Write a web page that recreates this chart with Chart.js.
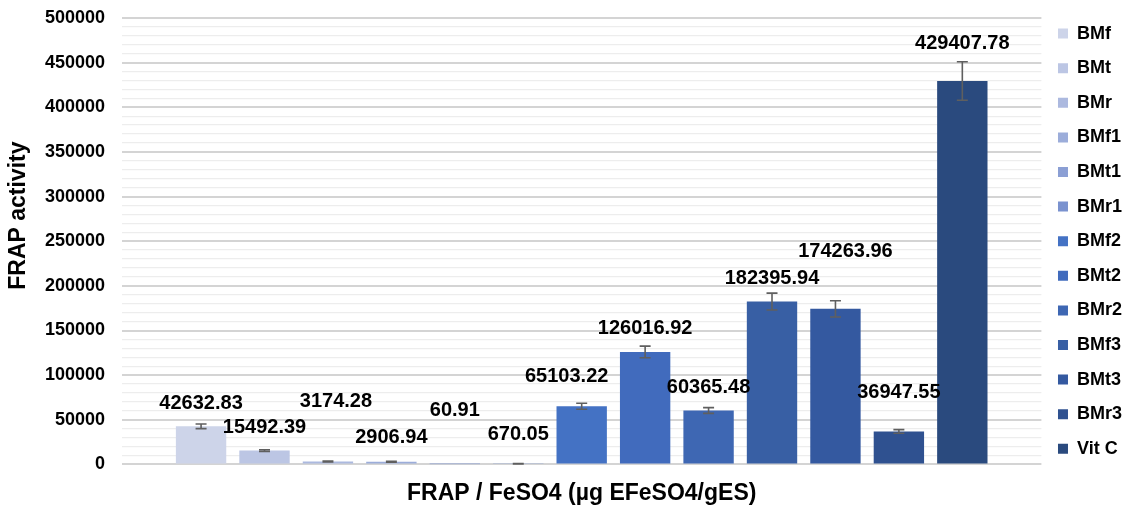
<!DOCTYPE html>
<html>
<head>
<meta charset="utf-8">
<script src="https://cdn.jsdelivr.net/npm/chart.js@4.4.0/dist/chart.umd.min.js"></script>
<style>
  html, body { margin:0; padding:0; background:#fff; }
  #wrap { width:1125px; height:510px; }
</style>
</head>
<body>
<div id="wrap"><canvas id="frapChart" width="1125" height="510"></canvas></div>
<script>
/* FRAP activity per extract */

const SAMPLES = ['BMf','BMt','BMr','BMf1','BMt1','BMr1','BMf2','BMt2','BMr2','BMf3','BMt3','BMr3','Vit C'];
const FRAP    = [42632.83,15492.39,3174.28,2906.94,60.91,670.05,65103.22,126016.92,60365.48,182395.94,174263.96,36947.55,429407.78];
const FRAP_SD = [2600,1000,500,500,0,300,3400,6500,3200,9500,9100,2000,21600];
const COLORS  = ['#CDD4E9','#BCC6E4','#ACB9DF','#9CADDA','#8B9FD4','#7A92CF','#4472C4','#416BBD','#3E67B3','#385FA4','#3459A0','#2F5190','#2A4A7E'];

// label nudges (px) where the labels were dragged around in the original
const LABEL_DX = [0,0,8,0,0,0,-15,0,0,0,10,0,0];
const LABEL_DY = [-23,-23,-60,-24,-54,-29,-30,-23,-23,-23,-57,-39,-38];

const FONT = '"Liberation Sans", Arial, sans-serif';

const barExtras = {
  id:'barExtras',
  afterDatasetsDraw(chart) {
    const { ctx, scales:{ y } } = chart;
    ctx.save();
    // error bars
    ctx.strokeStyle = '#5f5f5f';
    ctx.lineWidth = 1.6;
    FRAP.forEach((v, i) => {
      const bar = chart.getDatasetMeta(i).data[0];
      if (!bar || !FRAP_SD[i]) return;
      const yHi = y.getPixelForValue(v + FRAP_SD[i]);
      const yLo = y.getPixelForValue(Math.max(0, v - FRAP_SD[i]));
      ctx.beginPath();
      ctx.moveTo(bar.x, yHi); ctx.lineTo(bar.x, yLo);
      ctx.moveTo(bar.x - 5.5, yHi); ctx.lineTo(bar.x + 5.5, yHi);
      ctx.moveTo(bar.x - 5.5, yLo); ctx.lineTo(bar.x + 5.5, yLo);
      ctx.stroke();
    });
    // value labels
    ctx.fillStyle = '#000';
    ctx.font = 'bold 20px ' + FONT;
    ctx.textAlign = 'center';
    ctx.textBaseline = 'middle';
    FRAP.forEach((v, i) => {
      const bar = chart.getDatasetMeta(i).data[0];
      if (!bar) return;
      ctx.fillText(v.toFixed(2), bar.x + LABEL_DX[i], y.getPixelForValue(v) + LABEL_DY[i]);
    });
    ctx.restore();
  }
};

new Chart(document.getElementById('frapChart'), {
  type:'bar',
  data:{
    labels:[''],
    datasets: SAMPLES.map((s, i) => ({
      label:s, data:[FRAP[i]], backgroundColor:COLORS[i], borderWidth:0,
      categoryPercentage:0.897, barPercentage:0.794
    }))
  },
  options:{
    responsive:false,
    animation:false,
    layout:{ padding:{ top:8, right:-7, bottom:0, left:0 } },
    plugins:{
      tooltip:{ enabled:false },
      legend:{
        position:'right',
        align:'start',
        labels:{ boxWidth:10, boxHeight:10, padding:16.6, color:'#000', font:{ family:FONT, size:18, weight:'bold' } }
      }
    },
    scales:{
      x:{
        grid:{ display:false, drawTicks:false },
        border:{ display:false },
        ticks:{ display:false },
        title:{ display:true, text:'FRAP / FeSO4 (µg EFeSO4/gES)', color:'#000',
          font:{ family:FONT, size:23, weight:'bold' }, padding:{ top:15, bottom:3 } }
      },
      y:{
        min:0, max:500000,
        border:{ display:false },
        afterFit(s) { s.width = 122; s.paddingTop = 18; },
        grid:{
          drawTicks:false,
          color: c => c.tick.value % 50000 === 0 ? '#d4d4d4' : '#ededed',
          lineWidth: c => c.tick.value % 50000 === 0 ? 1.9 : 1.3
        },
        ticks:{
          stepSize:10000, maxTicksLimit:100, autoSkip:false, padding:17, color:'#000',
          font:{ family:FONT, size:18, weight:'bold' },
          callback: v => v % 50000 === 0 ? String(v) : ''
        },
        title:{ display:true, text:'        FRAP activity', color:'#000',
          font:{ family:FONT, size:23, weight:'bold' }, padding:{ top:5, bottom:0 } }
      }
    }
  },
  plugins:[barExtras]
});
</script>
</body>
</html>
